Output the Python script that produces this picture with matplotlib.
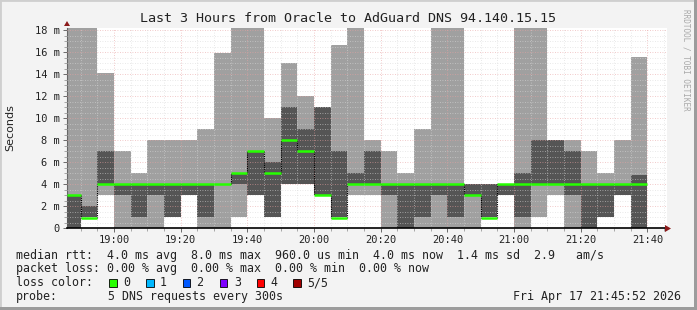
# python3
import numpy as np
import matplotlib.pyplot as plt
from matplotlib.patches import Rectangle, Polygon

# time slots: minutes after 18:00, first slot starts at 18:45:52, then 5 minute steps
graph_start = 45 + 52 / 60.0
graph_end = graph_start + 180
slot_edges = [graph_start] + list(range(50, 216, 5))

CLIP = 20.0  # above the graph top
ping_min = [0, 1, 3, 0, 0, 0, 1, 3, 0, 0, 1, 3, 1, 4, 4, 3, 1, 3, 3, 0, 0, 0, 0, 0, 0,
            1, 3, 0, 1, 3, 0, 0, 1, 3, 0]
ping_lo = [0, 1, 4, 3, 1, 3, 1, 3, 1, 4, 4, 3, 1, 4, 4, 3, 1, 4, 4, 3, 0, 1, 3, 1, 3,
           1, 3, 1, 4, 4, 3, 0, 1, 3, 0]
median = [3.05, 0.96, 4, 4, 4, 4, 4, 4, 4, 4, 5, 7, 5, 8, 7, 3, 0.96, 4, 4, 4, 4, 4, 4, 4, 3.05,
          0.96, 4, 4, 4, 4, 4, 4, 4, 4, 4]
ping_hi = [3, 2, 7, 4, 4, 4, 4, 4, 4, 4, 5, 7, 6, 11, 9, 11, 7, 5, 7, 4, 4, 4, 4, 4, 4,
           4, 4, 5, 8, 8, 7, 4, 4, 4, 4.85]
ping_max = [CLIP, CLIP, 14.1, 7, 5, 8, 8, 8, 9, 15.9, CLIP, CLIP, 10, 15, 12, 11, 16.7, CLIP, 8, 7, 5, 9, CLIP, CLIP, 4,
            4, 4, CLIP, CLIP, 8, 8, 7, 5, 8, 15.6]

tick_labels = ['19:00', '19:20', '19:40', '20:00', '20:20', '20:40', '21:00', '21:20', '21:40']
tick_pos = [60, 80, 100, 120, 140, 160, 180, 200, 220]

title = 'Last 3 Hours from Oracle to AdGuard DNS 94.140.15.15'
legend_rtt = 'median rtt:  4.0 ms avg  8.0 ms max  960.0 us min  4.0 ms now  1.4 ms sd  2.9   am/s'
legend_loss = 'packet loss: 0.00 % avg  0.00 % max  0.00 % min  0.00 % now'
loss_labels = ['0', '1', '2', '3', '4', '5/5']
loss_colors = ['#26ff00', '#00b8ff', '#0059ff', '#7e00ff', '#ff0000', '#a10000']
probe_text = '5 DNS requests every 300s'
date_text = 'Fri Apr 17 21:45:52 2026'

W, H = 697, 310
fig = plt.figure(figsize=(W / 100, H / 100), dpi=100)
fig.patch.set_facecolor('#f3f3f3')

def fx(x):
    return x / W

def fy(y):
    return 1 - y / H

# frame
fig.patches.append(Rectangle((0, 0), 1, 1, transform=fig.transFigure, fill=False,
                             edgecolor='#cfcfcf', linewidth=2))
fig.patches.append(Rectangle((fx(694), 0), fx(3), 1, transform=fig.transFigure,
                             facecolor='#9c9c9c', edgecolor='none'))
fig.patches.append(Rectangle((0, 0), 1, 3 / H, transform=fig.transFigure,
                             facecolor='#9c9c9c', edgecolor='none'))

top = 18.21
ax = fig.add_axes([fx(67), fy(228.3), fx(600), (228.3 - 28) / H])
ax.set_facecolor('white')
ax.set_xlim(graph_start, graph_end)
ax.set_ylim(0, top)

left = np.array(slot_edges)
right = np.append(left[1:], 220)
widths = right - left
lo_outer = np.array(ping_min)
hi_outer = np.minimum(np.array(ping_max), top)
ax.bar(left, hi_outer - lo_outer, width=widths, bottom=lo_outer, align='edge',
       color='#a0a0a0', linewidth=0, zorder=2)
ax.bar(left, np.array(ping_hi) - np.array(ping_lo), width=widths, bottom=ping_lo,
       align='edge', color='#555555', linewidth=0, zorder=3)

# grid over the smoke
for yv in np.arange(0.5, top, 0.5):
    major = abs(yv / 2 - round(yv / 2)) < 1e-6
    ax.axhline(yv, color='#e8a0a0' if major else '#d8d8d8', linewidth=0.6,
               linestyle=(0, (1, 2)), zorder=4, alpha=0.75)
for xv in range(50, 226, 5):
    major = xv % 20 == 0
    ax.axvline(xv, color='#e8a0a0' if major else '#d8d8d8', linewidth=0.6,
               linestyle=(0, (1, 2)), zorder=4, alpha=0.75)

# median steps
for i in range(1, len(median)):
    if median[i] != median[i - 1]:
        ax.plot([left[i], left[i]], [median[i - 1], median[i]], color='black',
                linewidth=0.8, linestyle=(0, (1, 1)), zorder=5)
ax.hlines(median, left, right, colors='#26ff00', linewidth=1.8, zorder=6)

ax.set_xticks(tick_pos)
ax.set_xticklabels(tick_labels)
ax.set_xticks(range(50, 226, 5), minor=True)
ax.set_yticks(range(0, 19, 2))
ax.set_yticklabels(['0'] + ['%d m' % v for v in range(2, 19, 2)])
ax.set_yticks(np.arange(0, top, 0.5), minor=True)
mono = 'DejaVu Sans Mono'
for lab in ax.get_xticklabels() + ax.get_yticklabels():
    lab.set_fontfamily(mono)
    lab.set_fontsize(7.5)
    lab.set_color('#222222')
ax.tick_params(axis='both', which='major', length=3, width=0.6, color='#555555', pad=2)
ax.tick_params(axis='both', which='minor', length=2, width=0.5, color='#888888')
for s in ['top', 'right']:
    ax.spines[s].set_visible(False)
ax.spines['left'].set_color('#666666')
ax.spines['left'].set_linewidth(0.8)
ax.spines['bottom'].set_color('black')
ax.spines['bottom'].set_linewidth(1.2)
ax.spines['bottom'].set_zorder(7)

# axis arrows
fig.patches.append(Polygon([[fx(665), fy(225)], [fx(665), fy(232)], [fx(671), fy(228.5)]],
                           closed=True, transform=fig.transFigure, facecolor='#8b1a1a'))
fig.patches.append(Polygon([[fx(64), fy(26)], [fx(70), fy(26)], [fx(67), fy(21)]],
                           closed=True, transform=fig.transFigure, facecolor='#8b1a1a'))

fig.text(fx(10), fy(128), 'Seconds', rotation=90, ha='center', va='center',
         fontsize=8, color='#222222')
fig.text(fx(348), fy(19), title, ha='center', va='center', family=mono,
         fontsize=9.6, color='#222222')
fig.text(fx(686), fy(60), 'RRDTOOL / TOBI OETIKER', rotation=270, ha='center', va='center',
         family=mono, fontsize=5.5, color='#a8a8a8')

fs = 8.4
fig.text(fx(16), fy(255), legend_rtt, ha='left', va='center', family=mono, fontsize=fs,
         color='#222222')
fig.text(fx(16), fy(268.5), legend_loss, ha='left', va='center', family=mono, fontsize=fs,
         color='#222222')
fig.text(fx(16), fy(282.5), 'loss color:', ha='left', va='center', family=mono, fontsize=fs,
         color='#222222')
box_x = [109, 146, 182.5, 220, 256.5, 293]
for bx, lab, col in zip(box_x, loss_labels, loss_colors):
    fig.patches.append(Rectangle((fx(bx), fy(286.5)), fx(7.5), 8 / H, transform=fig.transFigure,
                                 facecolor=col, edgecolor='black', linewidth=0.6))
    fig.text(fx(bx + 14), fy(282.5), lab, ha='left', va='center', family=mono, fontsize=fs,
             color='#222222')
fig.text(fx(16), fy(296.5), 'probe:', ha='left', va='center', family=mono, fontsize=fs,
         color='#222222')
fig.text(fx(107.5), fy(296.5), probe_text, ha='left', va='center', family=mono, fontsize=fs,
         color='#222222')
fig.text(fx(681), fy(296.5), date_text, ha='right', va='center', family=mono, fontsize=fs,
         color='#222222')

fig.savefig('out.png', dpi=100, facecolor=fig.get_facecolor())
